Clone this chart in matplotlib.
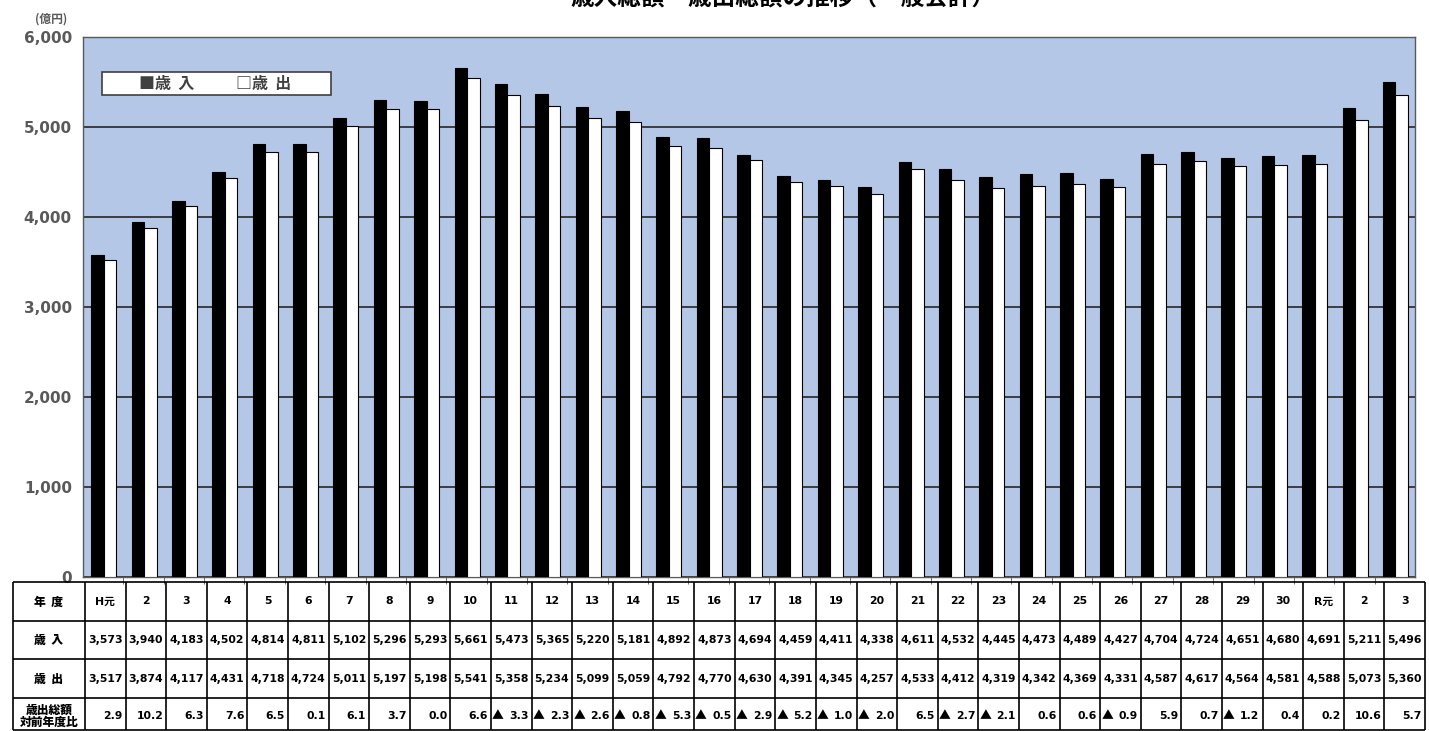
import matplotlib
matplotlib.use("Agg")
import matplotlib.pyplot as plt
import numpy as np
from matplotlib.patches import Rectangle
from matplotlib.ticker import FuncFormatter, MultipleLocator

plt.rcParams['font.family'] = ['Noto Sans CJK JP', 'DejaVu Sans']
NUMFONT = ['DejaVu Sans', 'Noto Sans CJK JP']

title = "歳入総額・歳出総額の推移（一般会計）"
years = ["H元"] + [str(i) for i in range(2, 31)] + ["R元", "2", "3"]
revenue = [3573, 3940, 4183, 4502, 4814, 4811, 5102, 5296, 5293, 5661,
           5473, 5365, 5220, 5181, 4892, 4873, 4694, 4459, 4411, 4338,
           4611, 4532, 4445, 4473, 4489, 4427, 4704, 4724, 4651, 4680,
           4691, 5211, 5496]
expenditure = [3517, 3874, 4117, 4431, 4718, 4724, 5011, 5197, 5198, 5541,
               5358, 5234, 5099, 5059, 4792, 4770, 4630, 4391, 4345, 4257,
               4533, 4412, 4319, 4342, 4369, 4331, 4587, 4617, 4564, 4581,
               4588, 5073, 5360]
exp_change = [2.9, 10.2, 6.3, 7.6, 6.5, 0.1, 6.1, 3.7, 0.0, 6.6,
              -3.3, -2.3, -2.6, -0.8, -5.3, -0.5, -2.9, -5.2, -1.0, -2.0,
              6.5, -2.7, -2.1, 0.6, 0.6, -0.9, 5.9, 0.7, -1.2, 0.4,
              0.2, 10.6, 5.7]
row_labels = ["年  度", "歳  入", "歳  出", "歳出総額\n対前年度比"]
legend_labels = ["歳  入", "歳  出"]

W, H = 1429, 731
fig = plt.figure(figsize=(W / 100, H / 100), dpi=100)

# main axes (pixel geometry of reference)
L, R, T, B = 83, 1415, 37, 577
ax = fig.add_axes([L / W, 1 - B / H, (R - L) / W, (B - T) / H])
ax.set_facecolor('#B4C7E7')

n = len(years)
x = np.arange(n)
bw = 0.31
ax.bar(x - 0.14, revenue, width=bw, color='black', edgecolor='black', linewidth=0.8, zorder=3)
ax.bar(x + 0.17, expenditure, width=bw, color='white', edgecolor='black', linewidth=0.8, zorder=3)

ax.set_xlim(-0.5, n - 0.5)
ax.set_ylim(0, 6000)
ax.yaxis.set_major_locator(MultipleLocator(1000))
ax.yaxis.set_major_formatter(FuncFormatter(lambda v, p: f"{int(v):,}"))
ax.grid(axis='y', color='#262626', linewidth=1.2, zorder=1)
ax.set_axisbelow(True)
ax.tick_params(axis='y', length=0, pad=8, labelsize=11, labelcolor='#595959')
for lab in ax.get_yticklabels():
    lab.set_fontweight('bold')
    lab.set_family('DejaVu Sans')
ax.set_xticks([])
ax.set_xticks(np.arange(0.5, n - 0.5, 1), minor=True)
ax.tick_params(axis='x', which='minor', length=5, color='#595959', direction='out')
for s in ax.spines.values():
    s.set_color('#595959')
    s.set_linewidth(1.0)

# unit label
fig.text(51 / W, 1 - 19 / H, "(億円)", fontsize=8.5, color='#595959', ha='center', va='center', fontweight='bold')

# legend box
lx0, ly0, lx1, ly1 = 102, 72, 331, 95
ax.add_patch(Rectangle(((lx0 - L) / (R - L), 1 - (ly1 - T) / (B - T)),
                       (lx1 - lx0) / (R - L), (ly1 - ly0) / (B - T),
                       transform=ax.transAxes, facecolor='white', edgecolor='#404040',
                       linewidth=1.2, zorder=5))
ly = 1 - ((ly0 + ly1) / 2 - T) / (B - T)
ax.text((139 - L) / (R - L), ly, "■" + legend_labels[0], transform=ax.transAxes,
        fontsize=11.5, fontweight='bold', color='#404040', va='center', ha='left', zorder=6)
ax.text((236 - L) / (R - L), ly, "□" + legend_labels[1], transform=ax.transAxes,
        fontsize=11.5, fontweight='bold', color='#404040', va='center', ha='left', zorder=6)

# title (clipped at the top edge like the reference)
fig.text(783 / W, 1 - 10 / H, title, fontsize=17, fontweight='bold', ha='center', va='bottom')

# table
tax = fig.add_axes([0, 0, 1, 1])
tax.set_xlim(0, W)
tax.set_ylim(H, 0)
tax.axis('off')
tx0, tx1 = 13, 1425
lab_w = 72
col_w = (tx1 - tx0 - lab_w) / n
rows_y = [582, 621, 659, 698, 730]
lw = 1.2
for yy in rows_y:
    tax.plot([tx0, tx1], [yy, yy], color='black', lw=lw, solid_capstyle='butt')
xs = [tx0, tx0 + lab_w] + [tx0 + lab_w + col_w * (i + 1) for i in range(n)]
for xx in xs:
    tax.plot([xx, xx], [rows_y[0], rows_y[-1]], color='black', lw=lw, solid_capstyle='butt')

fs = 7.8
for r, lab in enumerate(row_labels):
    yc = (rows_y[r] + rows_y[r + 1]) / 2
    tax.text(tx0 + lab_w / 2, yc + (2 if r == 3 else 0), lab, ha='center', va='center',
             fontsize=8.5, fontweight='heavy', linespacing=1.0)

for i in range(n):
    c0 = tx0 + lab_w + col_w * i
    cx = c0 + col_w / 2
    yc = [(rows_y[r] + rows_y[r + 1]) / 2 for r in range(4)]
    tax.text(cx, yc[0], years[i], ha='center', va='center', fontsize=fs, fontweight='bold', family=NUMFONT)
    tax.text(cx, yc[1], f"{revenue[i]:,}", ha='center', va='center', fontsize=fs, fontweight='bold', family=NUMFONT)
    tax.text(cx, yc[2], f"{expenditure[i]:,}", ha='center', va='center', fontsize=fs, fontweight='bold', family=NUMFONT)
    v = exp_change[i]
    if v < 0:
        tax.text(c0 + 1, yc[3] + 2, "▲", ha='left', va='center', fontsize=8.5, fontweight='bold',
                 family=['Noto Sans CJK JP', 'DejaVu Sans'])
        s = f"{abs(v):.1f}"
    else:
        s = f"{v:.1f}"
    tax.text(c0 + col_w - 3, yc[3] + 2, s, ha='right', va='center', fontsize=fs, fontweight='bold', family=NUMFONT)

fig.savefig("out.png", dpi=100)
